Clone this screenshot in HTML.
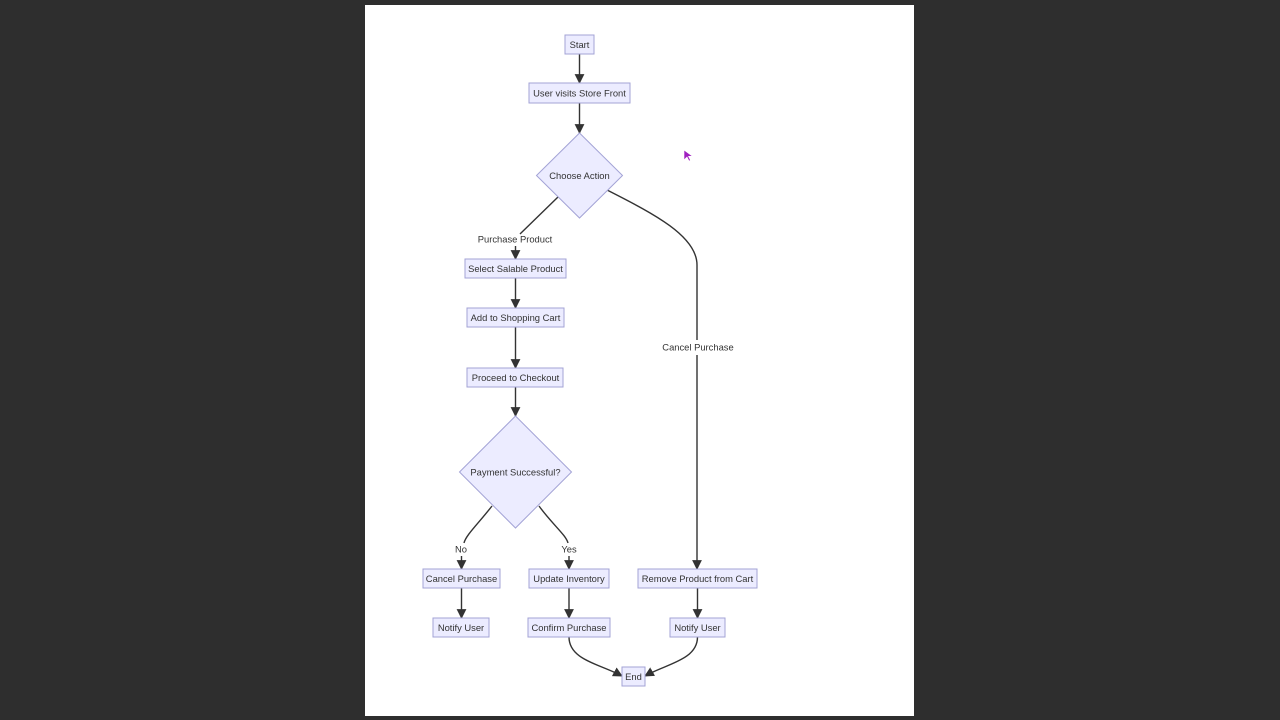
<!DOCTYPE html>
<html><head><meta charset="utf-8"><style>
html,body{margin:0;padding:0;background:#2e2e2e;width:1280px;height:720px;overflow:hidden}
svg{position:absolute;left:0;top:0}
text{font-family:"Liberation Sans",sans-serif;font-size:9.4px;fill:#333;text-anchor:middle;dominant-baseline:central}
.n{fill:#ececff;stroke:#a3a3d6;stroke-width:1}
.e{fill:none;stroke:#333;stroke-width:1.4}
</style></head><body>
<svg width="1280" height="720" viewBox="0 0 1280 720">
<defs><marker id="a" viewBox="0 0 10 10" refX="9" refY="5" markerWidth="7" markerHeight="7" orient="auto"><path d="M0,0L10,5L0,10z" fill="#333"/></marker></defs>
<rect x="365" y="5" width="549" height="711" fill="#fff"/>
<path class="e" marker-end="url(#a)" d="M579.5,54V83"/>
<path class="e" marker-end="url(#a)" d="M579.5,103V133"/>
<path class="e" d="M558,197L520,234"/>
<path class="e" marker-end="url(#a)" d="M515.5,246V259"/>
<path class="e" d="M607,190C650,212 697,235 697,265V340"/>
<path class="e" marker-end="url(#a)" d="M697,355V569"/>
<path class="e" marker-end="url(#a)" d="M515.5,278V308"/>
<path class="e" marker-end="url(#a)" d="M515.5,327V368"/>
<path class="e" marker-end="url(#a)" d="M515.5,387V416"/>
<path class="e" d="M492,506C478,524 466,535 464,543"/>
<path class="e" marker-end="url(#a)" d="M461.5,556V569"/>
<path class="e" d="M539,506C552,524 566,535 568,543"/>
<path class="e" marker-end="url(#a)" d="M569,556V569"/>
<path class="e" marker-end="url(#a)" d="M461.5,588V618"/>
<path class="e" marker-end="url(#a)" d="M569,588V618"/>
<path class="e" marker-end="url(#a)" d="M697.5,588V618"/>
<path class="e" marker-end="url(#a)" d="M569,637C569,660 600,664 622,676"/>
<path class="e" marker-end="url(#a)" d="M697.5,637C697.5,660 666,664 645,676"/>
<g transform="translate(0,1)">
<rect class="n" x="565" y="34" width="29" height="19"/><text x="579.5" y="43.5">Start</text>
<rect class="n" x="529" y="82" width="101" height="20"/><text x="579.5" y="92">User visits Store Front</text>
<polygon class="n" points="579.5,132 622.5,174.5 579.5,217 536.5,174.5"/><text x="579.5" y="174.5">Choose Action</text>
<rect class="n" x="465" y="258" width="101" height="19"/><text x="515.5" y="267.5">Select Salable Product</text>
<rect class="n" x="467" y="307" width="97" height="19"/><text x="515.5" y="316.5">Add to Shopping Cart</text>
<rect class="n" x="467" y="367" width="96" height="19"/><text x="515.5" y="376.5">Proceed to Checkout</text>
<polygon class="n" points="515.5,415 571.5,471 515.5,527 459.5,471"/><text x="515.5" y="471">Payment Successful?</text>
<rect class="n" x="423" y="568" width="77" height="19"/><text x="461.5" y="577.5">Cancel Purchase</text>
<rect class="n" x="529" y="568" width="80" height="19"/><text x="569" y="577.5">Update Inventory</text>
<rect class="n" x="638" y="568" width="119" height="19"/><text x="697.5" y="577.5">Remove Product from Cart</text>
<rect class="n" x="433" y="617" width="56" height="19"/><text x="461" y="626.5">Notify User</text>
<rect class="n" x="528" y="617" width="82" height="19"/><text x="569" y="626.5">Confirm Purchase</text>
<rect class="n" x="670" y="617" width="55" height="19"/><text x="697.5" y="626.5">Notify User</text>
<rect class="n" x="622" y="666" width="23" height="19"/><text x="633.5" y="675.5">End</text>
<text x="515" y="238">Purchase Product</text>
<text x="698" y="346">Cancel Purchase</text>
<text x="461" y="548">No</text>
<text x="569" y="548">Yes</text>
</g>
<path d="M684,150l0,10l3,-3l2,4l1.5,-0.7l-2,-4l4,0z" fill="#a020c0" stroke="#fff" stroke-width="0.6"/>
</svg>
</body></html>
